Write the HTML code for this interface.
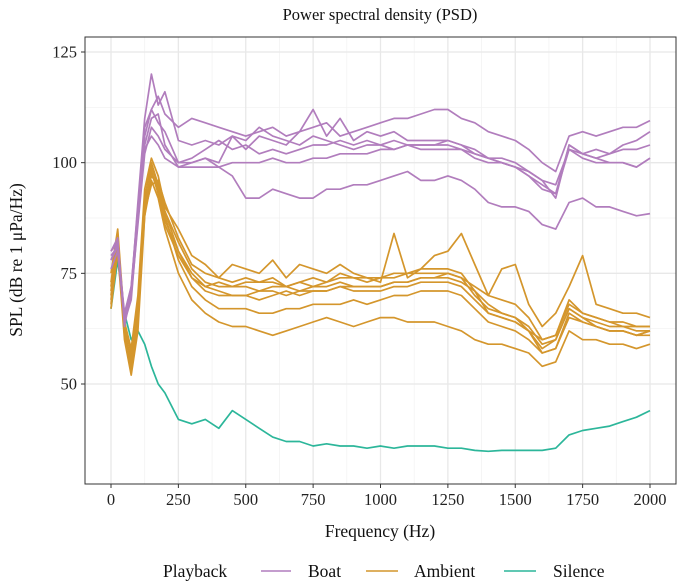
<!DOCTYPE html>
<html><head><meta charset="utf-8"><style>
body{margin:0;background:#fff;}
svg{display:block;font-family:"Liberation Serif",serif;}
</style></head><body>
<svg id="chart" width="677" height="582" xmlns="http://www.w3.org/2000/svg">
<rect width="677" height="582" fill="#fff"/>
<text x="380" y="20" font-size="16.5" text-anchor="middle" fill="#111">Power spectral density (PSD)</text>
<g id="grid"></g>
<g id="series"></g>
<rect x="85" y="37" width="591" height="447" fill="none" stroke="#333" stroke-width="1"/>
<g id="axes"></g>
<text x="380" y="537" font-size="17.5" text-anchor="middle" fill="#111">Frequency (Hz)</text>
<text transform="translate(22,260) rotate(-90)" font-size="17.5" text-anchor="middle" fill="#111">SPL (dB re 1 μPa/Hz)</text>
<g>
<text x="163" y="577" font-size="17.5" fill="#111">Playback</text>
<line x1="261" y1="571" x2="291" y2="571" stroke="#b17dbd" stroke-width="1.6"/>
<text x="308" y="577" font-size="17.5" fill="#111">Boat</text>
<line x1="366" y1="571" x2="398" y2="571" stroke="#d4962c" stroke-width="1.6"/>
<text x="414" y="577" font-size="17.5" fill="#111">Ambient</text>
<line x1="504" y1="571" x2="536" y2="571" stroke="#2cb69a" stroke-width="1.6"/>
<text x="553" y="577" font-size="17.5" fill="#111">Silence</text>
</g>
</svg>
<script>
const freqs = [0,25,50,75,100,125,150,175,200,250,300,350,400,450,500,550,600,650,700,750,800,850,900,950,1000,1050,1100,1150,1200,1250,1300,1350,1400,1450,1500,1550,1600,1650,1700,1750,1800,1850,1900,1950,2000];
const xTicks = [0,250,500,750,1000,1250,1500,1750,2000];
const yTicks = [50,75,100,125];
const boat1 = [80,82,65,72,90,108,112,115,111, 108,110,109,108,107,106,107,108,106,107,108,109,106,107,108,109,110,110,111,112,112,110,109,107,106,105,103,100,98,106,107,106,107,108,108,109.5];
const boat2 = [78,81,65,70,86,102,108,106,103, 100,100,101,99,97,92,92,94,93,92,92,94,94,95,95,96,97,98,96,96,97,96,94,91,90,90,89,86,85,91,92,90,90,89,88,88.5];
const boat3 = [76,80,64,69,87,103,106,104,101, 99,99,99,99,100,100,100,101,100,100,101,101,102,102,102,103,103,104,104,104,105,104,102,101,101,100,98,96,95,103,102,101,100,100,99,101];
const boat4 = [80,83,63,71,91,110,120,113,116, 105,104,105,104,106,103,106,105,104,107,112,106,110,105,107,106,107,105,105,105,105,104,103,101,100,99,97,95,93,104,102,103,102,104,105,107];
const boat5 = [78,82,65,70,88,106,112,109,107, 100,101,103,105,103,104,102,103,102,103,104,104,105,104,105,104,103,104,104,104,104,103,101,100,100,99,98,96,92,104,102,101,102,103,103,104];
const boat6 = [79,81,66,72,89,104,110,111,104, 99,100,101,100,106,105,108,106,105,104,106,105,104,103,104,104,105,104,103,103,103,103,102,101,100,99,97,94,93,103,101,100,100,100,99,101];
const amb1 = [70,82,62,55,66,88,96,92,85, 75,69,66,64,63,63,62,61,62,63,64,65,64,63,64,65,65,64,64,64,63,62,60,59,59,58,57,54,55,62,60,60,59,59,58,59];
const amb2 = [68,83,63,53,64,90,98,94,88, 78,72,69,67,67,67,66,66,67,67,68,68,68,69,68,69,70,70,71,71,71,70,67,64,63,62,60,57,58,65,64,63,62,62,61,62];
const amb3 = [72,84,61,56,68,92,100,95,89, 80,74,71,70,70,70,69,70,71,70,71,71,72,71,71,71,72,72,73,73,73,72,69,66,65,64,62,58,60,67,65,64,63,63,62,62];
const amb4 = [75,85,64,58,70,94,101,97,90, 85,79,77,74,77,76,75,78,74,77,76,75,77,75,74,73,84,74,76,79,80,84,77,70,76,77,68,63,66,72,79,68,67,66,66,65];
const amb5 = [67,80,60,52,62,88,99,95,89, 82,76,73,72,72,73,73,74,72,73,74,73,75,74,74,74,75,75,76,76,76,75,71,66,65,64,62,60,61,68,66,65,64,63,63,63];
const amb6 = [71,82,62,54,65,91,97,95,87, 80,75,72,73,72,72,71,72,72,71,72,72,73,72,72,72,73,73,74,74,74,73,71,68,66,65,62,57,58,66,64,63,62,62,61,62];
const amb7 = [73,84,63,57,67,89,95,96,91, 83,77,75,74,73,74,73,73,72,73,72,73,74,74,73,74,74,75,75,75,75,74,70,67,66,65,63,59,60,67,65,63,62,62,61,61];
const amb8 = [69,81,61,55,64,90,98,93,86, 79,74,72,71,70,70,71,71,70,71,71,71,72,72,72,72,73,73,74,74,75,74,72,70,69,68,65,60,61,69,66,65,64,64,63,63];
const silence = [67,78,66,60,62,59,54,50,48, 42,41,42,40,44,42,40,38,37,37,36,36.5,36,36,35.5,36,35.5,36,36,36,35.5,35.5,35,34.8,35,35,35,35,35.5,38.5,39.5,40,40.5,41.5,42.5,44];

const NS='http://www.w3.org/2000/svg';
const X0=111, X1=650, Y125=52, Y50=384;
function xScale(f){return X0+(f-0)/(2000-0)*(X1-X0);}
function yScale(v){return Y50+(v-50)/(125-50)*(Y125-Y50);}
const grid=document.getElementById('grid');
const axes=document.getElementById('axes');
function mk(tag,attrs,parent){const e=document.createElementNS(NS,tag);for(const k in attrs)e.setAttribute(k,attrs[k]);parent.appendChild(e);return e;}
for(let i=0;i<xTicks.length-1;i++){
  const f=(xTicks[i]+xTicks[i+1])/2;
  const l=mk('line',{x1:xScale(f),x2:xScale(f),y1:37,y2:484,stroke:'#f1f1f1','stroke-width':0.7},grid);
  
  
}
for(let i=0;i<yTicks.length-1;i++){
  const v=(yTicks[i]+yTicks[i+1])/2;
  const l=mk('line',{x1:85,x2:676,y1:yScale(v),y2:yScale(v),stroke:'#f1f1f1','stroke-width':0.7},grid);
  
  
}
xTicks.forEach(f=>{
  const x=xScale(f);
  const g=mk('line',{x1:x,x2:x,y1:37,y2:484,stroke:'#e8e8e8','stroke-width':1.3},grid);
  
  
  const t=mk('line',{x1:x,x2:x,y1:484,y2:488,stroke:'#333','stroke-width':1},axes);
  
  
  const lab=mk('text',{x:x,y:505,'font-size':16.5,'text-anchor':'middle',fill:'#222'},axes);
  lab.textContent=f;
  
  
});
yTicks.forEach(v=>{
  const y=yScale(v);
  const g=mk('line',{x1:85,x2:676,y1:y,y2:y,stroke:'#e8e8e8','stroke-width':1.3},grid);
  
  
  const t=mk('line',{x1:81,x2:85,y1:y,y2:y,stroke:'#333','stroke-width':1},axes);
  
  
  const lab=mk('text',{x:77,y:y+5.5,'font-size':16.5,'text-anchor':'end',fill:'#222'},axes);
  lab.textContent=v;
  
  
});
const seriesG=document.getElementById('series');
const groups=[
  {name:'silence',color:'#2cb69a',data:[silence]},
  {name:'ambient',color:'#d4962c',data:[amb1,amb2,amb3,amb4,amb5,amb6,amb7,amb8]},
  {name:'boat',color:'#b17dbd',data:[boat1,boat2,boat3,boat4,boat5,boat6]}
];
groups.forEach(gr=>{
  gr.data.forEach((arr,i)=>{
    const d=arr.map((v,j)=>(j?'L':'M')+xScale(freqs[j]).toFixed(1)+','+yScale(v).toFixed(1)).join('');
    const p=mk('path',{d:d,fill:'none',stroke:gr.color,'stroke-width':1.7,'stroke-linejoin':'round'},seriesG);
    
    
  });
});
</script>
</body></html>
